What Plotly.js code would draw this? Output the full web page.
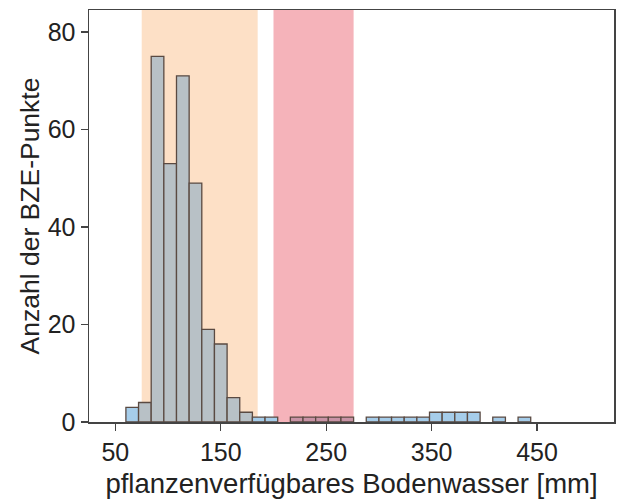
<!DOCTYPE html>
<html>
<head>
<meta charset="utf-8">
<script src="https://cdn.plot.ly/plotly-3.0.1.min.js"></script>
<style>html,body{margin:0;padding:0;background:#fff;}</style>
</head>
<body>
<div id="chart" style="width:617px;height:502px;"></div>
<script>
// Histogram bins (left edge, mm) with counts of BZE points
const binStart = [60, 72, 84, 96, 108, 120, 132, 144, 156, 168, 180, 192,
                  216, 228, 240, 252, 264,
                  288, 300, 312, 324, 336, 348, 360, 372, 384, 408, 432];
const counts   = [3, 4, 75, 53, 71, 49, 19, 16, 5, 2, 1, 1,
                  1, 1, 1, 1, 1,
                  1, 1, 1, 1, 1, 2, 2, 2, 2, 1, 1];
const binWidth = 12;

// Highlighted ranges (mm)
const orangeRange = [75, 185];
const redRange = [200, 276];

const xTicks = [50, 150, 250, 350, 450];
const yTicks = [0, 20, 40, 60, 80];

const centers = binStart.map(s => s + binWidth / 2);
const colors = centers.map(c => {
  if (c > orangeRange[0] && c < orangeRange[1]) return '#b8c1c6';
  if (c > redRange[0] && c < redRange[1]) return '#c893a6';
  return '#a6cdea';
});

const trace = {
  type: 'bar',
  x: centers,
  y: counts,
  width: binWidth,
  marker: { color: colors, line: { color: '#5a4a42', width: 1.3 } },
  hoverinfo: 'x+y'
};

const fam = 'Liberation Sans, Arial, sans-serif';

const layout = {
  width: 617, height: 502,
  margin: { l: 89, r: 3, t: 10, b: 80 },
  paper_bgcolor: '#fff', plot_bgcolor: '#fff',
  font: { family: fam, color: '#222' },
  showlegend: false,
  bargap: 0,
  xaxis: {
    range: [25, 523],
    tickvals: xTicks, ticktext: xTicks.map(String),
    ticks: 'outside', ticklen: 7, tickcolor: '#444', tickwidth: 1.3,
    showline: true, mirror: true, linecolor: '#444', linewidth: 1.5,
    showgrid: false, zeroline: false,
    tickfont: { size: 25, family: fam, color: '#222' },
    title: { text: 'pflanzenverfügbares Bodenwasser [mm]', font: { size: 27.5, family: fam, color: '#222' }, standoff: 9 }
  },
  yaxis: {
    range: [0, 84.5],
    tickvals: yTicks, ticktext: yTicks.map(String),
    ticks: 'outside', ticklen: 7, tickcolor: '#444', tickwidth: 1.3,
    showline: true, mirror: true, linecolor: '#444', linewidth: 1.5,
    showgrid: false, zeroline: false,
    tickfont: { size: 25, family: fam, color: '#222' },
    title: { text: 'Anzahl der BZE-Punkte', font: { size: 26.5, family: fam, color: '#222' }, standoff: 0 }
  },
  shapes: [
    { type: 'rect', layer: 'below', xref: 'x', yref: 'paper', x0: orangeRange[0], x1: orangeRange[1], y0: 0, y1: 1, fillcolor: '#fde0c6', line: { width: 0 } },
    { type: 'rect', layer: 'below', xref: 'x', yref: 'paper', x0: redRange[0], x1: redRange[1], y0: 0, y1: 1, fillcolor: '#f5b3ba', line: { width: 0 } }
  ]
};

Plotly.newPlot('chart', [trace], layout, { displayModeBar: false, staticPlot: true });
</script>
</body>
</html>
